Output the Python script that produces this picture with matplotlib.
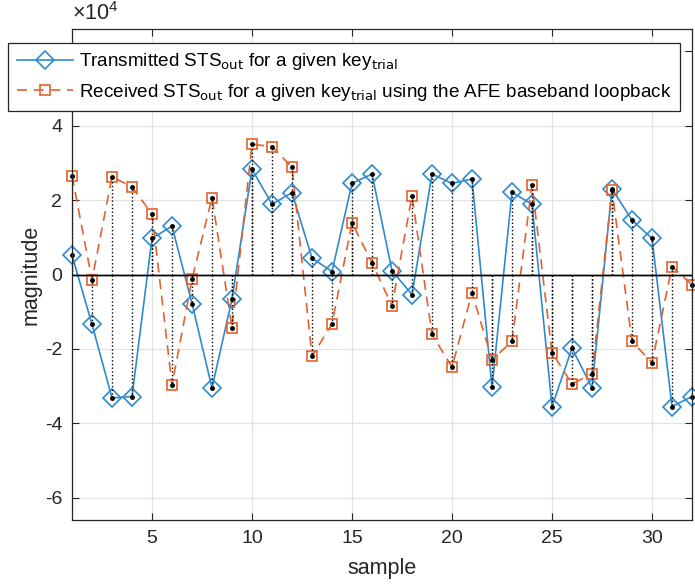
import numpy as np
import matplotlib
matplotlib.use("Agg")
import matplotlib.pyplot as plt

plt.rcParams['font.family'] = ['Liberation Sans', 'DejaVu Sans']
plt.rcParams['axes.unicode_minus'] = False
plt.rcParams['mathtext.fontset'] = 'custom'
plt.rcParams['mathtext.rm'] = 'Liberation Sans'
plt.rcParams['mathtext.it'] = 'Liberation Sans'

# values (units of 1)
sample = np.arange(1, 33)
tx_sts = [5200, -13400, -33200, -32800, 9700, 13000, -7800, -30500, -6600, 28300,
          18900, 22000, 4400, 800, 24500, 27000, 1000, -5400, 27000, 24500,
          25700, -30300, 22100, 18900, -35500, -19800, -30500, 23000, 14600, 9700,
          -35500, -32800]
rx_sts = [26600, -1500, 26300, 23500, 16300, -29700, -1300, 20700, -14300, 35000,
          34400, 28800, -22000, -13300, 13900, 3100, -8400, 21100, -16100, -24900,
          -4900, -22900, -18000, 24100, -21000, -29400, -26700, 22700, -18000, -23700,
          2100, -2700]

blue = '#2F8AD0'
orange = '#E2622E'
txt = '#262626'

fig = plt.figure(figsize=(6.95, 5.85), dpi=100)
ax = fig.add_axes([72 / 695, 1 - 520 / 585, 620 / 695, 491 / 585])

ax.plot(sample, tx_sts, '-', color=blue, lw=1.2, marker='D', ms=9,
        mfc='none', mec=blue, mew=1.2, clip_on=False,
        label=r'Transmitted STS$_{\mathsf{out}}$ for a given key$_{\mathsf{trial}}$')
ax.plot(sample, rx_sts, '--', color=orange, lw=1.2, dashes=(6, 4), marker='s',
        ms=7, mfc='none', mec=orange, mew=1.2, clip_on=False,
        label=r'Received STS$_{\mathsf{out}}$ for a given key$_{\mathsf{trial}}$ using the AFE baseband loopback')

for vals in (tx_sts, rx_sts):
    m, s, b = ax.stem(sample, vals, linefmt='k:', markerfmt='k.', basefmt='k-')
    m.set_markersize(5)
    m.set_clip_on(False)
    s.set_linewidth(1.0)
    b.set_linewidth(1.0)

ax.set_xlim(1, 32)
ax.set_ylim(-6.6e4, 6.6e4)
ax.set_xticks([5, 10, 15, 20, 25, 30])
ax.set_yticks([-6e4, -4e4, -2e4, 0, 2e4, 4e4, 6e4])
ax.set_yticklabels(['-6', '-4', '-2', '0', '2', '4', ''])
ax.text(0.0, 1.008, r'$\times$10$^{4}$', transform=ax.transAxes,
        fontsize=15.5, color=txt, va='bottom', ha='left')

ax.grid(True, color='#E3E3E3', lw=0.9)
ax.set_axisbelow(True)
ax.tick_params(direction='in', top=True, right=True, length=5, width=0.8,
               labelsize=14, colors=txt, labelcolor=txt, pad=7)
for sp in ax.spines.values():
    sp.set_color(txt)
    sp.set_linewidth(0.9)

ax.set_xlabel('sample', fontsize=15.5, color=txt, labelpad=8)
ax.set_ylabel('magnitude', fontsize=15.5, color=txt, labelpad=2)

leg = ax.legend(loc='upper left', bbox_to_anchor=(8 / 695, 1 - 43 / 585),
                bbox_transform=fig.transFigure, fontsize=13.6, handlelength=3.0,
                fancybox=False, framealpha=1, edgecolor='#262626',
                borderpad=0.45, labelspacing=0.5, handletextpad=0.3,
                borderaxespad=0)
leg.get_frame().set_linewidth(0.9)

fig.savefig('out.png', dpi=100)
